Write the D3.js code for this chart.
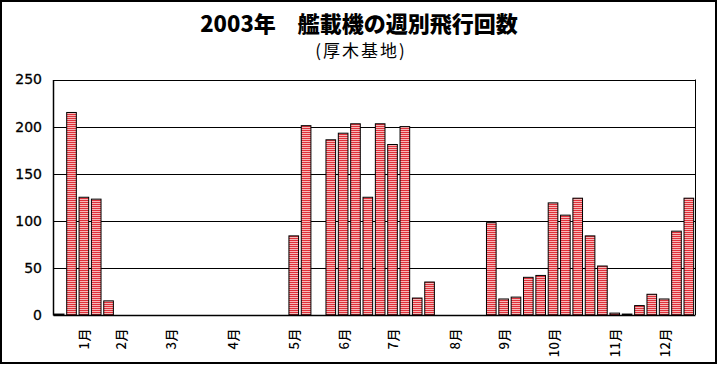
<!DOCTYPE html>
<html><head><meta charset="utf-8">
<script src="https://cdn.jsdelivr.net/npm/d3@7"></script>
<style>html,body{margin:0;padding:0;background:#fff;}svg{display:block;}</style>
</head><body>
<svg id="chart" width="718" height="367"></svg>
<script>
const titleText = "2003年\u3000艦載機の週別飛行回数";
const subtitleText = "(厚木基地)";
// weekly flight counts, 52 weeks
const flights = [1,215,125,123,15,0,0,0,0,0,0,0,0,0,0,0,0,0,0,84,201,0,186,193,203,125,203,181,200,18,35,0,0,0,0,98,17,19,40,42,119,106,124,84,52,2,1,10,22,17,89,124];
// month labels placed at week index
const monthWeeks = [2,5,9,14,19,23,27,32,36,40,45,49];
const monthNames = ["1月","2月","3月","4月","5月","6月","7月","8月","9月","10月","11月","12月"];
const yTicks = [0,50,100,150,200,250];

const weeks = flights.map((d,i)=>i);
const weekLabels = weeks.map(i => { const k = monthWeeks.indexOf(i); return k>=0 ? monthNames[k] : ""; });

const svg = d3.select("#chart");
const pLeft = 53, pRight = 695, pTop = 79.5, pBottom = 315;

const defs = svg.append("defs");
const pat = defs.append("pattern").attr("id","stripes").attr("patternUnits","userSpaceOnUse")
  .attr("width",4).attr("height",2);
pat.append("rect").attr("width",4).attr("height",2).attr("fill","#f6b8b8");
pat.append("rect").attr("width",4).attr("height",1).attr("fill","#e0303a");

// outer border
svg.append("rect").attr("x",1).attr("y",1).attr("width",715).attr("height",362)
  .attr("fill","none").attr("stroke","#000").attr("stroke-width",2);

svg.append("text").attr("x",359).attr("y",32).attr("text-anchor","middle")
  .attr("font-family","'Noto Sans CJK JP'").attr("font-weight",900).attr("font-size",22)
  .text(titleText);
svg.append("text").attr("x",361).attr("y",57).attr("text-anchor","middle")
  .attr("font-family","'Noto Sans CJK JP'").attr("font-size",17).attr("letter-spacing","2px")
  .text(subtitleText);

const x = d3.scaleBand().domain(weeks).range([pLeft,pRight]).paddingInner(0.22).paddingOuter(0.11);
const y = d3.scaleLinear().domain([0,250]).range([pBottom,pTop]);

// gridlines
svg.append("g").selectAll("line").data(yTicks.filter(t=>t>0)).join("line")
  .attr("x1",pLeft).attr("x2",pRight).attr("y1",d=>Math.round(y(d))+0.5).attr("y2",d=>Math.round(y(d))+0.5)
  .attr("stroke","#000").attr("stroke-width",1);
// right border
svg.append("line").attr("x1",pRight+0.5).attr("x2",pRight+0.5).attr("y1",pTop).attr("y2",pBottom)
  .attr("stroke","#000");

// bars
svg.append("g").selectAll("rect").data(flights).join("rect")
  .attr("x",(d,i)=>x(i)).attr("width",x.bandwidth())
  .attr("y",d=>y(d)).attr("height",d=>pBottom-y(d))
  .attr("fill","url(#stripes)").attr("stroke","#000").attr("stroke-width",1)
  .attr("display",d=>d>0?null:"none");

// y axis
const yAxis = d3.axisLeft(y).tickValues(yTicks).tickSize(0).tickPadding(11);
const gy = svg.append("g").attr("transform",`translate(${pLeft},0)`).call(yAxis);
gy.select(".domain").attr("stroke","#000").attr("stroke-width",1.5);
gy.selectAll("text").attr("font-family","'DejaVu Sans'").attr("font-size",14).attr("fill","#000")
  .attr("stroke","#000").attr("stroke-width",0.3);

// x axis
const xAxis = d3.axisBottom(x).tickFormat((d,i)=>weekLabels[i]).tickSize(0).tickPadding(0);
const gx = svg.append("g").attr("transform",`translate(0,${pBottom})`).call(xAxis);
gx.select(".domain").attr("stroke","#000").attr("stroke-width",1.5);
gx.selectAll("text")
  .attr("font-family","'Noto Sans CJK JP'").attr("font-size",13).attr("fill","#000")
  .attr("font-weight",500)
  .attr("text-anchor","end").attr("dy",null)
  .attr("transform","translate(0,13) rotate(-90)")
  .attr("x",0).attr("y",0).attr("dominant-baseline","central")
  .attr("letter-spacing","0.5px");
</script>
</body></html>
